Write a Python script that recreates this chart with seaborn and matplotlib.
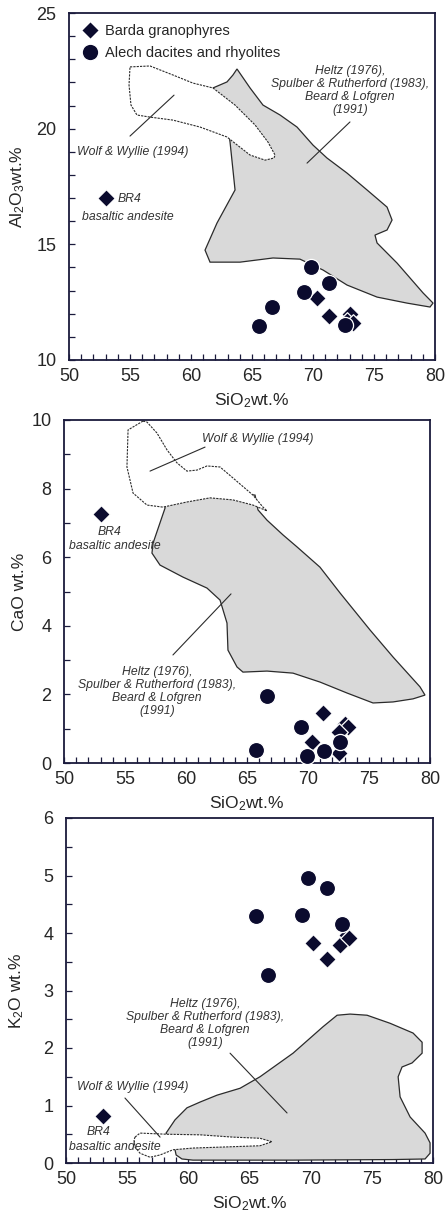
import matplotlib
matplotlib.use("Agg")
import matplotlib.pyplot as plt
from matplotlib.lines import Line2D
import numpy as np
import seaborn as sns

# ---------------- data ----------------
# Panel 1: Al2O3 vs SiO2
barda_sio2_al = [53.0, 70.3, 71.3, 73.0, 72.8, 73.3]
barda_al2o3 = [17.0, 12.7, 11.9, 12.0, 11.7, 11.6]
alech_sio2_al = [69.8, 71.3, 69.3, 66.6, 65.6, 72.6]
alech_al2o3 = [14.0, 13.35, 12.95, 12.27, 11.45, 11.5]

# Panel 2: CaO vs SiO2
barda_sio2_ca = [53.0, 71.2, 70.3, 73.0, 73.3, 72.5, 72.5]
barda_cao = [7.26, 1.46, 0.6, 1.14, 1.05, 0.9, 0.28]
alech_sio2_ca = [66.6, 69.4, 65.7, 69.9, 71.3, 72.6]
alech_cao = [1.96, 1.06, 0.38, 0.2, 0.35, 0.62]

# Panel 3: K2O vs SiO2
barda_sio2_k = [53.0, 70.2, 71.3, 72.4, 73.0, 73.1]
barda_k2o = [0.82, 3.83, 3.55, 3.79, 3.97, 3.91]
alech_sio2_k = [69.8, 71.3, 65.5, 69.3, 72.6, 66.5]
alech_k2o = [4.96, 4.78, 4.3, 4.31, 4.15, 3.27]

# Experimental fields (outlines in data units)
heltz_al_sio2 = [61.8, 62.95, 63.44, 63.77, 64.84, 65.9, 67.3, 68.69, 70.0, 71.15, 72.79, 74.43, 76.07,
                 76.48, 76.07, 75.08, 75.25, 76.89, 79.02, 79.84, 79.59, 77.7, 75.25, 72.79, 70.82,
                 68.93, 66.72, 64.02, 61.56, 61.15, 62.13, 63.61, 63.44, 63.2, 62.79]
heltz_al_y = [21.76, 22.02, 22.32, 22.58, 21.76, 21.02, 20.59, 20.07, 19.29, 18.73, 18.08, 17.35, 16.61,
              16.05, 15.62, 15.40, 15.06, 14.19, 12.9, 12.46, 12.29, 12.46, 12.72, 13.24, 13.89,
              14.36, 14.41, 14.23, 14.23, 14.75, 15.92, 17.35, 18.21, 19.42, 20.81]
wolf_al_sio2 = [55.0, 56.64, 58.52, 60.16, 61.8, 63.61, 65.25, 66.31, 66.89, 66.8, 66.07, 64.84, 62.95,
                60.74, 58.52, 56.64, 55.57, 55.08, 54.92]
wolf_al_y = [22.67, 22.71, 22.32, 21.97, 21.76, 21.02, 20.16, 19.42, 18.86, 18.73, 18.64, 18.86, 19.64,
             20.07, 20.37, 20.5, 20.59, 21.02, 21.89]

heltz_ca_sio2 = [58.28, 61.97, 65.66, 65.9, 66.64, 67.95, 69.1, 70.98, 72.62, 75.08, 76.97, 79.18, 79.59,
                 78.61, 76.97, 75.33, 73.2, 70.98, 68.77, 66.64, 64.67, 64.18, 63.44, 63.36, 62.79,
                 61.72, 59.75, 57.87, 57.21, 57.3, 58.28]
heltz_ca_y = [7.81, 7.96, 7.81, 7.38, 7.08, 6.65, 6.3, 5.71, 4.96, 3.88, 3.09, 2.22, 1.98,
              1.87, 1.78, 1.75, 2.04, 2.36, 2.62, 2.68, 2.65, 2.8, 3.29, 4.08, 4.75,
              5.1, 5.42, 5.77, 6.12, 6.41, 7.43]
wolf_ca_sio2 = [56.48, 55.25, 55.16, 55.66, 56.8, 58.11, 60.08, 61.97, 63.85, 65.49, 66.64, 66.31, 65.49,
                63.85, 62.79, 61.72, 60.9, 60.08, 59.26, 58.44, 57.62, 56.8]
wolf_ca_y = [9.97, 9.71, 8.63, 7.87, 7.52, 7.46, 7.61, 7.73, 7.67, 7.52, 7.35, 7.46, 7.81,
             8.31, 8.63, 8.66, 8.54, 8.51, 8.75, 9.13, 9.62, 9.94]

heltz_k_sio2 = [58.18, 58.91, 59.89, 60.96, 62.35, 64.23, 65.86, 68.56, 71.01, 72.16, 73.22, 74.61, 76.49,
                78.37, 79.11, 79.11, 78.29, 77.47, 77.15, 77.31, 78.13, 79.35, 79.76, 79.76, 79.35,
                76.74, 68.56, 60.38, 59.48, 59.0, 58.91]
heltz_k_y = [0.52, 0.75, 0.96, 1.06, 1.18, 1.3, 1.5, 1.91, 2.37, 2.57, 2.59, 2.57, 2.43,
             2.26, 2.1, 1.91, 1.74, 1.67, 1.5, 1.15, 0.8, 0.52, 0.35, 0.17, 0.07,
             0.06, 0.05, 0.05, 0.07, 0.14, 0.23]
wolf_k_sio2 = [55.64, 56.05, 58.26, 60.96, 63.65, 65.86, 66.84, 65.86, 63.16, 60.38, 58.75, 57.69,
               56.87, 56.05, 55.64, 55.56]
wolf_k_y = [0.45, 0.52, 0.5, 0.49, 0.45, 0.43, 0.37, 0.3, 0.28, 0.26, 0.23, 0.14,
            0.1, 0.17, 0.28, 0.4]

x_ticks = [50, 55, 60, 65, 70, 75, 80]
heltz_label = "Heltz (1976),\nSpulber & Rutherford (1983),\nBeard & Lofgren\n(1991)"
wolf_label = "Wolf & Wyllie (1994)"
legend_labels = ["Barda granophyres", "Alech dacites and rhyolites"]

# ---------------- style ----------------
sns.set_style("white")
plt.rcParams['font.family'] = ['Liberation Sans', 'DejaVu Sans']
plt.rcParams['mathtext.fontset'] = 'custom'
plt.rcParams['mathtext.rm'] = 'Liberation Sans'
plt.rcParams['mathtext.it'] = 'Liberation Sans:italic'

NAVY = '#0b0b2e'
SPINE = '#1a1a3c'
GREY = '#d9d9d9'
LINE = '#2b2b2b'
TXT = '#333333'

W, H = 446, 1211
fig = plt.figure(figsize=(W / 100, H / 100), dpi=100)


def make_ax(l, r, t, b):
    return fig.add_axes([l / W, 1 - b / H, (r - l) / W, (b - t) / H])


def style_ax(ax, ylim, ymajor, yminor, ylabel, ylab_x):
    ax.set_xlim(50, 80)
    ax.set_ylim(*ylim)
    ax.set_xticks(x_ticks)
    ax.set_xticks(range(50, 81), minor=True)
    ax.set_yticks(np.arange(ylim[0], ylim[1] + 1e-9, ymajor))
    ax.set_yticks(np.arange(ylim[0], ylim[1] + 1e-9, yminor), minor=True)
    ax.tick_params(which='both', direction='in', length=4, width=0.9, color=SPINE,
                   top=False, right=False, bottom=True, left=True)
    ax.tick_params(axis='x', which='major', labelsize=13, pad=6)
    ax.tick_params(axis='y', which='major', labelsize=13, pad=9)
    for s in ax.spines.values():
        s.set_color(SPINE)
        s.set_linewidth(1.3)
    ax.set_xlabel(r'SiO$_2$wt.%', fontsize=12.5, labelpad=4)
    ax.set_ylabel(ylabel, fontsize=12.5)
    ax.yaxis.set_label_coords(ylab_x, 0.5)


def points(ax, bx, by, cx, cy):
    sns.scatterplot(x=bx, y=by, ax=ax, marker='D', s=80, color=NAVY,
                    edgecolor='white', linewidth=0.9, zorder=5)
    sns.scatterplot(x=cx, y=cy, ax=ax, marker='o', s=135, color=NAVY,
                    edgecolor='white', linewidth=0.9, zorder=6)


def leader(ax, p0, p1):
    ax.annotate('', xy=p1, xytext=p0,
                arrowprops=dict(arrowstyle='-', color=LINE, lw=0.8, shrinkA=0, shrinkB=0),
                zorder=4)


ital = dict(fontsize=8.8, style='italic', color=TXT, ha='center', va='center', zorder=7)

# ---------------- panel 1 ----------------
ax1 = make_ax(69, 435, 13, 360)
ax1.fill(heltz_al_sio2, heltz_al_y, facecolor=GREY, edgecolor=LINE, lw=0.9, zorder=1)
ax1.fill(wolf_al_sio2, wolf_al_y, facecolor='white', edgecolor=LINE, lw=0.8,
         linestyle=(0, (2, 1)), zorder=2)
points(ax1, barda_sio2_al, barda_al2o3, alech_sio2_al, alech_al2o3)
ax1.text(55.25, 18.99, wolf_label, **ital)
leader(ax1, (55.0, 19.68), (58.61, 21.45))
ax1.text(73.03, 21.65, heltz_label, linespacing=1.12, **ital)
leader(ax1, (73.03, 20.29), (69.51, 18.51))
ax1.text(54.02, 16.96, "BR4", fontsize=8.8, style='italic', color=TXT, ha='left', va='center')
ax1.text(54.84, 16.18, "basaltic andesite", **ital)
style_ax(ax1, (10, 25), 5, 1, r'Al$_2$O$_3$wt.%', -0.115)
handles = [Line2D([], [], marker='D', ls='none', color=NAVY, markeredgecolor='white',
                  markersize=9),
           Line2D([], [], marker='o', ls='none', color=NAVY, markeredgecolor='white',
                  markersize=12)]
ax1.legend(handles, legend_labels, loc='upper left', bbox_to_anchor=(0.0, 1.0),
           frameon=False, fontsize=10.5, handletextpad=0.35, labelspacing=0.55,
           borderaxespad=0.35, handlelength=1.4)

# ---------------- panel 2 ----------------
ax2 = make_ax(64, 430, 420, 763)
ax2.fill(heltz_ca_sio2, heltz_ca_y, facecolor=GREY, edgecolor=LINE, lw=0.9, zorder=1)
ax2.fill(wolf_ca_sio2, wolf_ca_y, facecolor='white', edgecolor=LINE, lw=0.8,
         linestyle=(0, (2, 1)), zorder=2)
points(ax2, barda_sio2_ca, barda_cao, alech_sio2_ca, alech_cao)
ax2.text(65.9, 9.45, wolf_label, **ital)
leader(ax2, (61.56, 9.21), (57.05, 8.51))
ax2.text(53.77, 6.73, "BR4", **ital)
ax2.text(54.18, 6.33, "basaltic andesite", **ital)
ax2.text(57.62, 2.08, heltz_label, linespacing=1.12, **ital)
leader(ax2, (58.93, 3.15), (63.69, 4.93))
style_ax(ax2, (0, 10), 2, 1, r'CaO wt.%', -0.1)

# ---------------- panel 3 ----------------
ax3 = make_ax(66, 433, 818, 1163)
ax3.fill(heltz_k_sio2, heltz_k_y, facecolor=GREY, edgecolor=LINE, lw=0.9, zorder=1)
ax3.fill(wolf_k_sio2, wolf_k_y, facecolor='white', edgecolor=LINE, lw=0.8,
         linestyle=(0, (2, 1)), zorder=2)
points(ax3, barda_sio2_k, barda_k2o, alech_sio2_k, alech_k2o)
ax3.text(61.37, 2.43, heltz_label, linespacing=1.12, **ital)
leader(ax3, (63.41, 1.91), (68.07, 0.87))
ax3.text(55.48, 1.32, wolf_label, **ital)
leader(ax3, (54.82, 1.13), (57.69, 0.45))
ax3.text(52.7, 0.54, "BR4", **ital)
ax3.text(54.0, 0.28, "basaltic andesite", **ital)
style_ax(ax3, (0, 6), 1, 0.5, r'K$_2$O wt.%', -0.11)

fig.savefig("out.png", dpi=100)
